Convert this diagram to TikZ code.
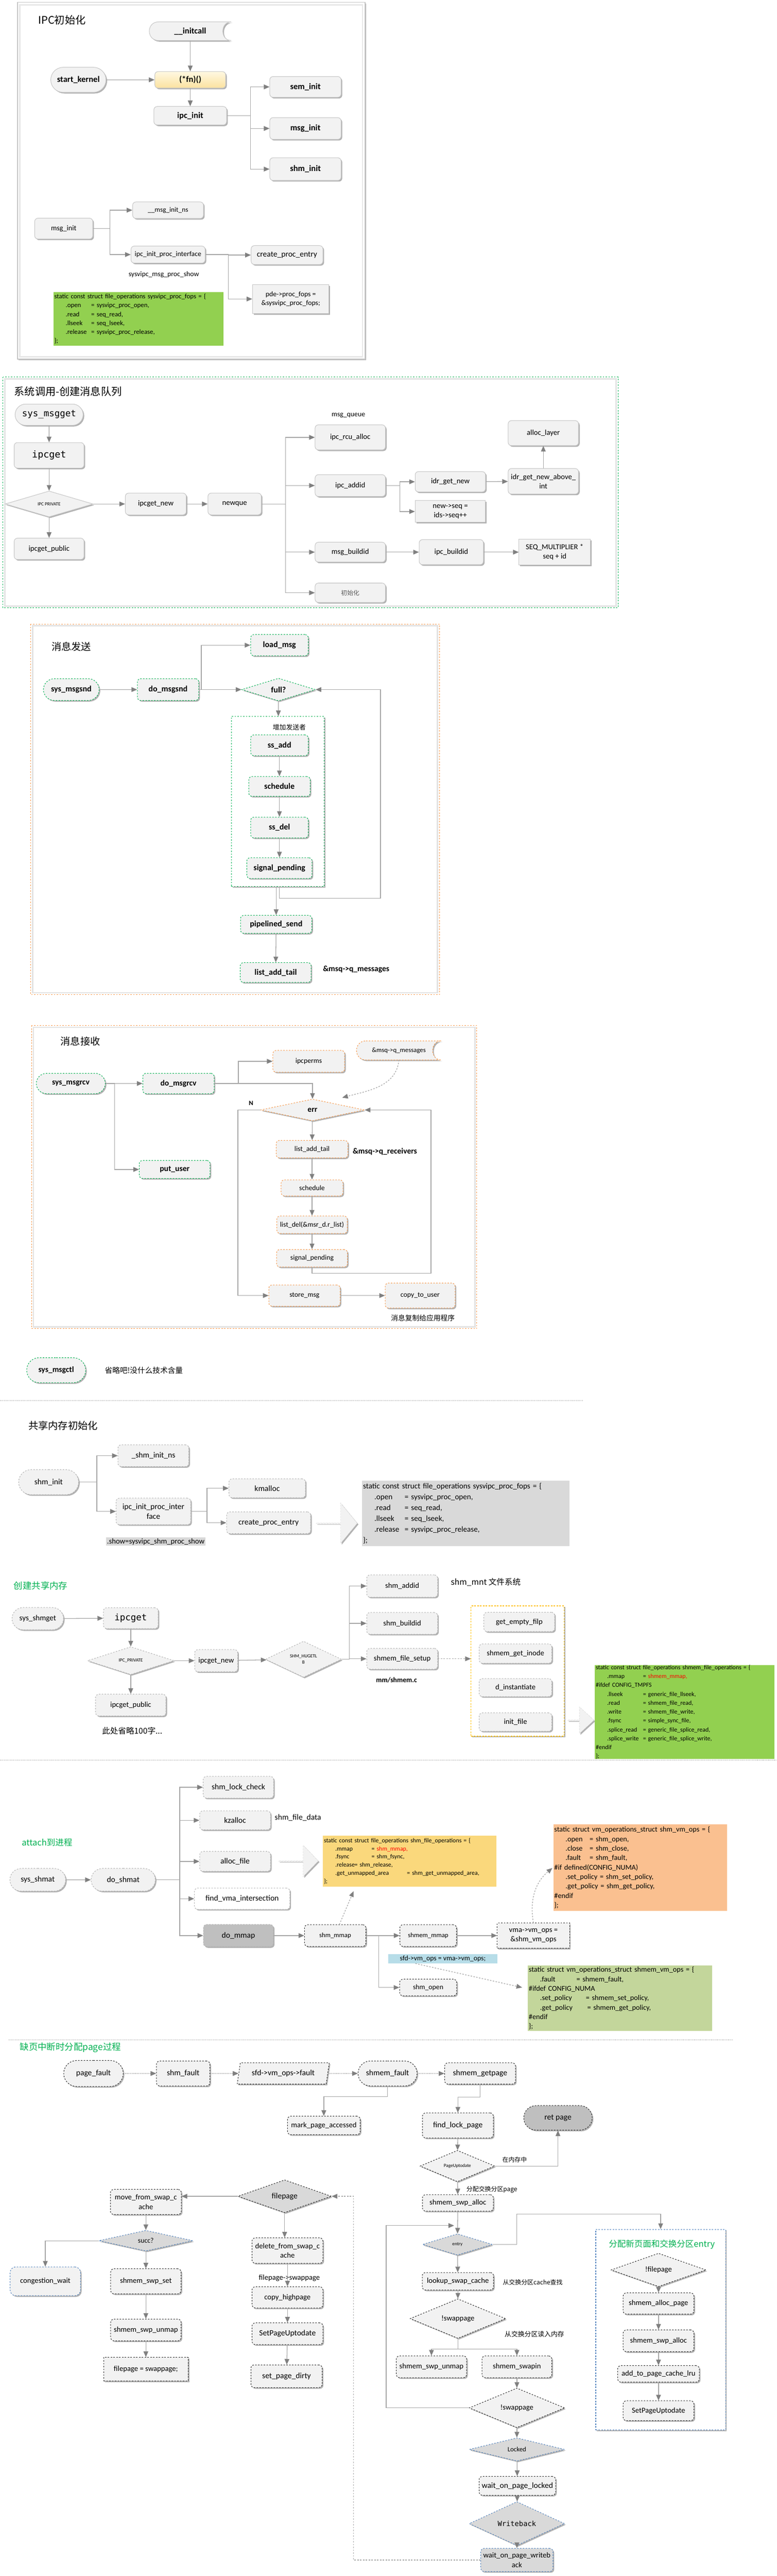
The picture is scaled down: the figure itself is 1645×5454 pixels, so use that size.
\documentclass[tikz,border=0pt]{standalone}
\usepackage{fontspec}
\setmainfont{Carlito}
\setmonofont{DejaVu Sans Mono}
\newfontfamily\cjk{Noto Sans CJK SC}
\usetikzlibrary{positioning,shapes.geometric,shapes.misc,shapes.arrows,shadows,arrows.meta,calc,backgrounds}

\definecolor{nodefill}{HTML}{F2F2F2}
\definecolor{darkfill}{HTML}{BFBFBF}
\definecolor{linegray}{HTML}{A6A6A6}
\definecolor{tipgray}{HTML}{808080}
\definecolor{mgreen}{HTML}{00B050}
\definecolor{morange}{HTML}{F79646}
\definecolor{mblue}{HTML}{4F81BD}
\definecolor{mgold}{HTML}{FFC000}
\definecolor{codegreen}{HTML}{92D050}
\definecolor{codegray}{HTML}{D9D9D9}
\definecolor{codeyellow}{HTML}{FAD87C}
\definecolor{codeorange}{HTML}{FAC090}
\definecolor{codeolive}{HTML}{C3D69B}
\definecolor{codeblue}{HTML}{B7DDE8}
\definecolor{fnlight}{HTML}{FFF8E1}
\definecolor{fndark}{HTML}{FBE2A0}

\newcommand{\linesp}{\baselineskip=1.25\baselineskip}
\newcommand{\fld}[3]{\hspace*{24pt}\makebox[#1][l]{#2}#3}
\newcommand{\storeshape}[2]{%
  \path[#1] let \p1=(#2.north west), \p2=(#2.south west), \n1={abs(\y1-\y2)} in
    ($(#2.north west)+(0.5*\n1,0pt)$) -- (#2.north east)
    .. controls +(-0.6*\n1,0pt) and +(-0.6*\n1,0pt) .. (#2.south east)
    -- ($(#2.south west)+(0.5*\n1,0pt)$)
    .. controls +(-0.667*\n1,0pt) and +(-0.667*\n1,0pt) .. ($(#2.north west)+(0.5*\n1,0pt)$) -- cycle;}

\tikzset{%
  fs/.style={font=\fontsize{#1}{#1}\selectfont\linesp},
  fb/.style={font=\fontsize{#1}{#1}\selectfont\linesp\bfseries},
  fm/.style={font=\fontsize{#1}{#1}\selectfont\ttfamily},
  fc/.style={font=\fontsize{#1}{#1}\selectfont\linesp\cjk},
  ombre/.style={drop shadow={shadow xshift=2.5pt, shadow yshift=-2.5pt, opacity=.3, fill=black}},
  bloc/.style={draw=gray!45, fill=nodefill, rounded corners=7pt, line width=1.1pt, align=center, inner sep=2pt, ombre, fs=16},
  term/.style={bloc, rounded rectangle, sharp corners},
  sqbox/.style={bloc, sharp corners},
  decision/.style={diamond, draw=gray!45, fill=nodefill, line width=1.1pt, inner sep=0pt, align=center, ombre, fs=16},
  gbord/.style={draw=mgreen, dashed},
  obord/.style={draw=morange, dashed},
  bbord/.style={draw=mblue, dashed},
  kbord/.style={draw=gray!60, dashed},
  nbord/.style={draw=black!85, dashed},
  dark/.style={fill=darkfill},
  line/.style={draw, color=linegray, line width=1.4pt, -{Triangle[length=12pt,width=10pt,color=tipgray]}},
  linepart/.style={line, dashed},
  linedot/.style={line, dash pattern=on 2pt off 1.5pt},
  note/.style={inner sep=0pt, fs=15},
  titre/.style={anchor=west, inner sep=0pt, fc=21},
  codebox/.style={anchor=north west, inner xsep=2pt, inner ysep=0pt, align=left},
  bigarrow/.style={single arrow, draw=gray!40, dashed, fill=nodefill, inner sep=0pt, ombre},
  back group/.style={fill=white, line width=1.2pt, dashed, ombre},
  sepline/.style={draw=gray!60, line width=1.2pt, dash pattern=on 2pt off 1pt},
}

\begin{document}
\begin{tikzpicture}[x=1pt, y=-1pt]
  \useasboundingbox (0,0) rectangle (1645,5454);

  \begin{scope}[on background layer]
    \fill[white] (0,0) rectangle (1645,5454);
    \draw[gray!45, line width=2pt, fill=white, ombre] (37,5) rectangle (773,760);
    \draw[gray!18, line width=3pt] (42,10) rectangle (768,755);
    \draw[mgreen, dashed, line width=1.2pt, fill=white] (6,798) rectangle (1309,1287);
    \draw[gray!22, line width=3pt] (10,802) rectangle (1305,1283);
    \draw[morange, dashed, line width=1.2pt, fill=white] (65,1321) rectangle (931,2106);
    \draw[gray!22, line width=3pt] (69,1325) rectangle (927,2102);
    \draw[morange, dashed, line width=1.2pt, fill=white] (67,2171) rectangle (1010,2813);
    \draw[gray!22, line width=3pt] (71,2175) rectangle (1006,2809);
    \draw[sepline] (0,2965) -- (1235,2965);
    \draw[sepline] (0,3727) -- (1645,3727);
    \draw[sepline] (17,4319) -- (1553,4319);
  \end{scope}

  % IPC init
  \node (t1) [titre, fc=22] at (81,42) {IPC初始化};
  \node (ic) [fb=18, inner sep=0pt, minimum width=173, minimum height=39] at (403,66) {\_\_initcall};
  \node (sk) [term, fb=18, minimum width=121, minimum height=53] at (166,169) {start\_kernel};
  \node (fn) [bloc, fb=18, top color=fnlight, bottom color=fndark, minimum width=150, minimum height=35] at (403,169) {(*fn)()};
  \node (ipcinit) [bloc, fb=18, minimum width=154, minimum height=39] at (403,245) {ipc\_init};
  \node (seminit) [bloc, fb=18, minimum width=151, minimum height=44] at (647,184) {sem\_init};
  \node (msginit) [bloc, fb=18, minimum width=151, minimum height=46] at (647,272) {msg\_init};
  \node (shminit) [bloc, fb=18, minimum width=151, minimum height=48] at (647,358) {shm\_init};
  \node (mi) [bloc, fs=15.5, minimum width=123, minimum height=44] at (135,484) {msg\_init};
  \node (mins) [bloc, fs=14.5, minimum width=150, minimum height=35] at (356,445) {\_\_msg\_init\_ns};
  \node (ipip) [bloc, fs=15, minimum width=157, minimum height=36] at (356,539) {ipc\_init\_proc\_interface};
  \node (lshow) [note] at (347,581) {sysvipc\_msg\_proc\_show};
  \node (cpe) [bloc, fs=17, minimum width=152, minimum height=40] at (608,540) {create\_proc\_entry};
  \node (pde) [sqbox, fs=15, minimum width=162, minimum height=61] at (616,633) {pde->proc\_fops =\\\&sysvipc\_proc\_fops;};
  \node (code1) [codebox, fill=codegreen, text width=356, minimum width=360, minimum height=114, font=\fontsize{14}{18.8}\selectfont] at (113,618)
    {static const struct file\_operations sysvipc\_proc\_fops = \{\\
     \fld{54pt}{.open}{= sysvipc\_proc\_open,}\\
     \fld{54pt}{.read}{= seq\_read,}\\
     \fld{54pt}{.llseek}{= seq\_lseek,}\\
     \fld{54pt}{.release}{= sysvipc\_proc\_release,}\\
     \};};

  \path [line] (ic) -- (fn);
  \path [line] (sk) -- (fn);
  \path [line] (fn) -- (ipcinit);
  \path [line] (ipcinit.east) -- ++(50,0) |- (seminit);
  \path [line] (ipcinit.east) -- ++(50,0) |- (msginit);
  \path [line] (ipcinit.east) -- ++(50,0) |- (shminit);
  \path [line] (mi.east) -- ++(36,0) |- (mins);
  \path [line] (mi.east) -- ++(36,0) |- (ipip);
  \path [line] (ipip.east) -- ++(49,0) |- (cpe);
  \path [line] (ipip.east) -- ++(49,0) |- (pde);

  % msgget
  \node (t2) [titre, fc=22] at (30,829) {系统调用-创建消息队列};
  \node (smg) [term, fm=19, minimum width=148, minimum height=45] at (104,878) {sys\_msgget};
  \node (ipg) [bloc, fm=20, minimum width=148, minimum height=54] at (104,964) {ipcget};
  \node (ipcpriv) [decision, fs=10, minimum width=186, minimum height=48] at (104,1067) {IPC PRIVATE};
  \node (ipgp) [bloc, minimum width=148, minimum height=45] at (104,1162) {ipcget\_public};
  \node (ipgn) [bloc, minimum width=129, minimum height=46] at (330,1067) {ipcget\_new};
  \node (nq) [bloc, minimum width=113, minimum height=46] at (497,1067) {newque};
  \node (lmq) [note] at (738,880) {msg\_queue};
  \node (rcu) [bloc, minimum width=149, minimum height=53] at (742,926) {ipc\_rcu\_alloc};
  \node (addid) [bloc, minimum width=149, minimum height=46] at (742,1028) {ipc\_addid};
  \node (idrg) [bloc, minimum width=149, minimum height=43] at (954,1020) {idr\_get\_new};
  \node (nseq) [sqbox, minimum width=149, minimum height=46] at (954,1083) {new->seq =\\ids->seq++};
  \node (idra) [bloc, minimum width=149, minimum height=54] at (1151,1019) {idr\_get\_new\_above\_\\int};
  \node (allocl) [bloc, minimum width=149, minimum height=53] at (1151,917) {alloc\_layer};
  \node (mbid) [bloc, minimum width=149, minimum height=42] at (742,1169) {msg\_buildid};
  \node (ibid) [bloc, minimum width=136, minimum height=53] at (956,1169) {ipc\_buildid};
  \node (seqm) [sqbox, minimum width=151, minimum height=54] at (1175,1169) {SEQ\_MULTIPLIER *\\seq + id};
  \node (init) [bloc, fc=13, text=gray!70!black, minimum width=149, minimum height=41] at (742,1255) {初始化};

  \path [line] (smg) -- (ipg);
  \path [line] (ipg) -- (ipcpriv);
  \path [line] (ipcpriv) -- (ipgp);
  \path [line] (ipcpriv) -- (ipgn);
  \path [line] (ipgn) -- (nq);
  \path [line] (nq.east) -- ++(51,0) |- (rcu);
  \path [line] (nq.east) -- ++(51,0) |- (addid);
  \path [line] (nq.east) -- ++(51,0) |- (mbid);
  \path [line] (nq.east) -- ++(51,0) |- (init);
  \path [line] (addid.east) -- ++(30,0) |- (idrg);
  \path [line] (addid.east) -- ++(30,0) |- (nseq);
  \path [line] (idrg) -- (idra);
  \path [line] (idra) -- (allocl);
  \path [line] (mbid) -- (ibid);
  \path [line] (ibid) -- (seqm);

  % msgsnd
  \node (t3) [titre] at (109,1369) {消息发送};
  \node (sms) [term, gbord, fb=17.5, minimum width=122, minimum height=46] at (151,1460) {sys\_msgsnd};
  \node (dms) [bloc, gbord, fb=17.5, minimum width=130, minimum height=46] at (356,1460) {do\_msgsnd};
  \node (lm) [bloc, gbord, fb=17.5, minimum width=122, minimum height=45] at (592,1366) {load\_msg};
  \node (full) [decision, gbord, fb=17.5, minimum width=156, minimum height=48] at (590,1460) {full?};
  \node (grp) [back group, draw=mgreen, minimum width=197, minimum height=360] at (588.5,1697) {};
  \node (lsnd) [note, fc=14] at (613,1540) {增加发送者};
  \node (ssadd) [bloc, gbord, fb=17.5, minimum width=122, minimum height=44] at (592,1578) {ss\_add};
  \node (sched) [bloc, gbord, fb=17.5, minimum width=130, minimum height=42] at (592,1665) {schedule};
  \node (ssdel) [bloc, gbord, fb=17.5, minimum width=122, minimum height=44] at (592,1752) {ss\_del};
  \node (sigp) [bloc, gbord, fb=17.5, minimum width=138, minimum height=44] at (592,1838) {signal\_pending};
  \node (ps) [bloc, gbord, fb=17.5, minimum width=151, minimum height=38] at (585,1957) {pipelined\_send};
  \node (lat) [bloc, gbord, fb=17.5, minimum width=150, minimum height=42] at (584,2059) {list\_add\_tail};
  \node (lqm) [note, fb=17, anchor=west] at (684,2052) {\&msq->q\_messages};
  \coordinate (sndloop) at (806,1460);

  \path [line] (sms) -- (dms);
  \path [line] (dms.east) -- ++(5,0) |- (lm);
  \path [line] (dms) -- (full);
  \path [line] (full) -- (grp);
  \path [line] (ssadd) -- (sched);
  \path [line] (sched) -- (ssdel);
  \path [line] (ssdel) -- (sigp);
  \path [line] (grp.south -| ps) -- (ps);
  \path [line] ([xshift=3pt]grp.south) -- ++(0,24) -| (sndloop) -- (full.east);
  \path [line] (ps) -- (lat);

  % msgrcv
  \node (t4) [titre] at (128,2205) {消息接收};
  \node (smr) [term, gbord, fb=17, minimum width=150, minimum height=43] at (150,2294) {sys\_msgrcv};
  \node (dmr) [bloc, gbord, fb=17, minimum width=151, minimum height=43] at (378,2294) {do\_msgrcv};
  \node (pu) [bloc, gbord, fb=17, minimum width=150, minimum height=38] at (370,2476) {put\_user};
  \node (ipcp) [bloc, obord, fs=15, minimum width=152, minimum height=46] at (654,2247) {ipcperms};
  \node (qm) [fs=14, inner sep=0pt, minimum width=179, minimum height=40] at (845,2224) {\&msq->q\_messages};
  \node (err) [decision, obord, fb=17, minimum width=220, minimum height=46] at (662,2350) {err};
  \node (lN) [note, fb=14] at (532,2336) {N};
  \node (lat2) [bloc, obord, fs=15, minimum width=152, minimum height=37] at (661,2433) {list\_add\_tail};
  \node (lqr) [note, fb=17, anchor=west] at (747,2438) {\&msq->q\_receivers};
  \node (sch2) [bloc, obord, fs=15, minimum width=131, minimum height=34] at (661,2515) {schedule};
  \node (ldel) [bloc, obord, fs=15, minimum width=149, minimum height=37] at (661,2593) {list\_del(\&msr\_d.r\_list)};
  \node (sig2) [bloc, obord, fs=15, minimum width=150, minimum height=37] at (661,2664) {signal\_pending};
  \node (stm) [bloc, obord, fs=15, minimum width=151, minimum height=45] at (645,2743) {store\_msg};
  \node (ctu) [bloc, obord, fs=15, minimum width=148, minimum height=53] at (890,2743) {copy\_to\_user};
  \node (lcopy) [note, fc=15, anchor=west] at (828,2790) {消息复制给应用程序};
  \coordinate (rcvloop) at (913,2350);
  \coordinate (nloop) at (504,2743);
  \coordinate (qtip) at (725,2324);

  \path [line] (smr) -- (dmr);
  \path [line] (smr.east) -- ++(19,0) |- (pu);
  \path [line] (dmr.east) -- ++(51,0) |- (ipcp);
  \path [line] (dmr.east) -| (err.north);
  \path [linepart] (qm.south) to[out=-95, in=15] (qtip);
  \path [line] (err) -- (lat2);
  \path [line] (lat2) -- (sch2);
  \path [line] (sch2) -- (ldel);
  \path [line] (ldel) -- (sig2);
  \path [line] (sig2.south) -- ++(0,13) -| (rcvloop) -- (err.east);
  \path [line] (err.west) -| (nloop) -- (stm);
  \path [line] (stm) -- (ctu);

  \node (smc) [term, gbord, fb=17, minimum width=129, minimum height=53] at (119,2901) {sys\_msgctl};
  \node (lmc) [note, fc=16, anchor=west] at (222,2901) {省略吧!没什么技术含量};

  % shm init
  \node (t6) [titre] at (60,3018) {共享内存初始化};
  \node (si) [term, kbord, fs=17, minimum width=131, minimum height=53] at (103,3138) {shm\_init};
  \node (sin) [bloc, kbord, fs=17, minimum width=150, minimum height=46] at (325,3082) {\_shm\_init\_ns};
  \node (iip) [bloc, kbord, fs=17, minimum width=158, minimum height=56] at (325,3200) {ipc\_init\_proc\_inter\\face};
  \node (km) [bloc, kbord, fs=17, minimum width=162, minimum height=40] at (566,3151) {kmalloc};
  \node (cpe2) [bloc, kbord, fs=17, minimum width=178, minimum height=46] at (569,3224) {create\_proc\_entry};
  \node (lsh) [note, fs=16, fill=codegray, inner sep=2pt] at (330,3264) {.show=sysvipc\_shm\_proc\_show};
  \node (blk1) [bigarrow, minimum width=86, minimum height=87, single arrow head extend=13, single arrow tip angle=101] at (713,3225) {};
  \node (code2) [codebox, fill=codegray, text width=435, minimum width=439, minimum height=138, font=\fontsize{16.5}{23}\selectfont] at (767,3135)
    {static const struct file\_operations sysvipc\_proc\_fops = \{\\
     \fld{64pt}{.open}{= sysvipc\_proc\_open,}\\
     \fld{64pt}{.read}{= seq\_read,}\\
     \fld{64pt}{.llseek}{= seq\_lseek,}\\
     \fld{64pt}{.release}{= sysvipc\_proc\_release,}\\
     \};};

  \path [line] (si.east) -- ++(38,0) |- (sin);
  \path [line] (si.east) -- ++(38,0) |- (iip);
  \path [line] (iip.east) -- ++(34,0) |- (km);
  \path [line] (iip.east) -- ++(34,0) |- (cpe2);

  % shmget
  \node (t7) [titre, fc=19, text=mgreen] at (29,3357) {创建共享内存};
  \node (sg) [term, kbord, fs=16.5, minimum width=113, minimum height=47] at (80,3427) {sys\_shmget};
  \node (ipg2) [bloc, kbord, fm=19, minimum width=116, minimum height=44] at (277,3426) {ipcget};
  \node (pr2) [decision, kbord, fs=10, minimum width=183, minimum height=49] at (277,3516) {IPC\_PRIVATE};
  \node (ipgn2) [bloc, kbord, fs=16, minimum width=91, minimum height=47] at (458,3516) {ipcget\_new};
  \node (hug) [decision, kbord, fs=10, minimum width=161, minimum height=55] at (643,3513) {SHM\_HUGETL\\B};
  \node (ipgp2) [bloc, kbord, fs=16, minimum width=149, minimum height=46] at (277,3610) {ipcget\_public};
  \node (l100) [note, fc=17] at (280,3665) {此处省略100字...};
  \node (sadd) [bloc, kbord, fs=16, minimum width=150, minimum height=47] at (852,3358) {shm\_addid};
  \node (lmnt) [note, fc=17, anchor=west] at (955,3350) {shm\_mnt 文件系统};
  \node (sbid) [bloc, kbord, fs=16, minimum width=150, minimum height=46] at (852,3437) {shm\_buildid};
  \node (sfs) [bloc, kbord, fs=16, minimum width=150, minimum height=44] at (852,3512) {shmem\_file\_setup};
  \node (lmm) [note, fb=15] at (840,3557) {mm/shmem.c};
  \node (grp2) [back group, draw=mgold, minimum width=197, minimum height=276] at (1096.5,3538) {};
  \node (gef) [bloc, kbord, fs=16, minimum width=150, minimum height=41] at (1100,3434) {get\_empty\_filp};
  \node (sgi) [bloc, kbord, fs=16, minimum width=154, minimum height=41] at (1092,3501) {shmem\_get\_inode};
  \node (dinst) [bloc, kbord, fs=16, minimum width=154, minimum height=38] at (1092,3573) {d\_instantiate};
  \node (inf) [bloc, kbord, fs=16, minimum width=154, minimum height=39] at (1092,3646) {init\_file};
  \node (blk2) [bigarrow, minimum width=57, minimum height=56, single arrow head extend=8, single arrow tip angle=85] at (1230,3642) {};
  \node (code3) [codebox, fill=codegreen, text width=376, minimum width=380, minimum height=187, font=\fontsize{13}{18.8}\selectfont] at (1260,3525)
    {static const struct file\_operations shmem\_file\_operations = \{\\
     \fld{76pt}{.mmap}{= \textcolor{red}{shmem\_mmap,}}\\
     \#ifdef CONFIG\_TMPFS\\
     \fld{76pt}{.llseek}{= generic\_file\_llseek,}\\
     \fld{76pt}{.read}{= shmem\_file\_read,}\\
     \fld{76pt}{.write}{= shmem\_file\_write,}\\
     \fld{76pt}{.fsync}{= simple\_sync\_file,}\\
     \fld{76pt}{.splice\_read}{= generic\_file\_splice\_read,}\\
     \fld{76pt}{.splice\_write}{= generic\_file\_splice\_write,}\\
     \#endif\\
     \};};

  \path [line] (sg) -- (ipg2);
  \path [line] (ipg2) -- (pr2);
  \path [line] (pr2) -- (ipgp2);
  \path [line] (pr2) -- (ipgn2);
  \path [line] (ipgn2) -- (hug);
  \path [line] (hug.east) -- ++(16,0) |- (sadd);
  \path [line] (hug.east) -- ++(16,0) |- (sbid);
  \path [line] (hug.east) -- ++(16,0) |- (sfs);
  \path [linepart] (sfs.east) -- (sfs.east -| grp2.west);

  % shmat
  \node (t8) [titre, fc=18, text=mgreen] at (46,3901) {attach到进程};
  \node (ssh) [term, kbord, fs=17, minimum width=122, minimum height=48] at (80,3980) {sys\_shmat};
  \node (dsh) [term, kbord, fs=17, minimum width=140, minimum height=48] at (261,3980) {do\_shmat};
  \node (slc) [bloc, kbord, fs=17, minimum width=149, minimum height=46] at (505,3784) {shm\_lock\_check};
  \node (kz) [bloc, kbord, fs=17, minimum width=150, minimum height=40] at (498,3854) {kzalloc};
  \node (lsfd) [note, fs=17, anchor=west] at (582,3848) {shm\_file\_data};
  \node (af) [bloc, kbord, fs=17, minimum width=150, minimum height=42] at (498,3941) {alloc\_file};
  \node (blk3) [bigarrow, minimum width=67, minimum height=84, single arrow head extend=11, single arrow tip angle=92] at (632,3940) {};
  \node (code4) [codebox, fill=codeyellow, text width=363, minimum width=367, minimum height=108, font=\fontsize{13}{17.2}\selectfont] at (684,3886)
    {static const struct file\_operations shm\_file\_operations = \{\\
     \fld{77pt}{.mmap}{= \textcolor{red}{shm\_mmap,}}\\
     \fld{77pt}{.fsync}{= shm\_fsync,}\\
     \fld{0pt}{.release}{\hspace{41pt}= shm\_release,}\\
     \fld{152pt}{.get\_unmapped\_area}{= shm\_get\_unmapped\_area,}\\
     \};};
  \node (fvi) [bloc, kbord, fs=17, fill=white, minimum width=202, minimum height=45] at (513,4020) {find\_vma\_intersection};
  \node (dmm) [bloc, kbord, dark, fs=17, minimum width=148, minimum height=47] at (505,4098) {do\_mmap};
  \node (smm) [bloc, nbord, fs=14, minimum width=130, minimum height=46] at (710,4098) {shm\_mmap};
  \node (shmm) [bloc, nbord, fs=14, minimum width=120, minimum height=46] at (907,4098) {shmem\_mmap};
  \node (vmo) [sqbox, nbord, fs=16, minimum width=153, minimum height=53] at (1130,4098) {vma->vm\_ops =\\\&shm\_vm\_ops};
  \node (sop) [bloc, nbord, fs=15, minimum width=121, minimum height=35] at (907,4208) {shm\_open};
  \node (lsv) [note, fs=15, fill=codeblue, minimum width=232, minimum height=20] at (938,4147) {sfd->vm\_ops = vma->vm\_ops;};
  \node (code5) [codebox, fill=codeorange, text width=364, minimum width=368, minimum height=184, font=\fontsize{15.5}{20}\selectfont] at (1172,3862)
    {static struct vm\_operations\_struct shm\_vm\_ops = \{\\
     \fld{51pt}{.open}{= shm\_open,}\\
     \fld{51pt}{.close}{= shm\_close,}\\
     \fld{51pt}{.fault}{= shm\_fault,}\\
     \#if defined(CONFIG\_NUMA)\\
     \fld{0pt}{}{.set\_policy = shm\_set\_policy,}\\
     \fld{0pt}{}{.get\_policy = shm\_get\_policy,}\\
     \#endif\\
     \};};
  \node (code6) [codebox, fill=codeolive, text width=386, minimum width=390, minimum height=139, font=\fontsize{15.5}{20}\selectfont] at (1118,4161)
    {static struct vm\_operations\_struct shmem\_vm\_ops = \{\\
     \fld{77pt}{.fault}{= shmem\_fault,}\\
     \#ifdef CONFIG\_NUMA\\
     \fld{97pt}{.set\_policy}{= shmem\_set\_policy,}\\
     \fld{100pt}{.get\_policy}{= shmem\_get\_policy,}\\
     \#endif\\
     \};};
  \coordinate (yel) at (749,4004);
  \coordinate (oend) at (1170,3955);
  \coordinate (vend) at (1106,4208);

  \path [line] (ssh) -- (dsh);
  \path [line] (dsh.east) -- ++(51,0) |- (slc);
  \path [line] (dsh.east) -- ++(51,0) |- (kz);
  \path [line] (dsh.east) -- ++(51,0) |- (af);
  \path [line] (dsh.east) -- ++(51,0) |- (fvi);
  \path [line] (dsh.east) -- ++(51,0) |- (dmm);
  \path [line] (dmm) -- (smm);
  \path [line] (smm) -- (shmm);
  \path [line] (smm.east) -- ++(27,0) |- (sop);
  \path [line] (shmm) -- (vmo);
  \path [linepart] ([xshift=9pt]smm.north) -- (yel);
  \path [linepart] (vmo.north) to[out=100, in=-140] (oend);
  \path [linepart] ([xshift=-58pt]lsv.south) -- (vend);

  % page fault
  \node (t9) [titre, fc=19, text=mgreen] at (42,4335) {缺页中断时分配page过程};
  \node (pf) [term, nbord, fs=17, minimum width=130, minimum height=55] at (198,4390) {page\_fault};
  \node (sf) [bloc, nbord, fs=17, minimum width=113, minimum height=53] at (388,4390) {shm\_fault};
  \node (vf) [bloc, nbord, sharp corners, trapezium, trapezium left angle=75, trapezium right angle=105, trapezium stretches=true, fs=17, minimum width=195, minimum height=45] at (600,4390) {sfd->vm\_ops->fault};
  \node (shf) [term, nbord, fs=17, minimum width=129, minimum height=53] at (821,4390) {shmem\_fault};
  \node (sgp) [bloc, nbord, fs=17, minimum width=150, minimum height=45] at (1017,4390) {shmem\_getpage};
  \node (mpa) [bloc, nbord, fs=16, minimum width=154, minimum height=39] at (686,4500) {mark\_page\_accessed};
  \node (flp) [bloc, nbord, fs=17, minimum width=150, minimum height=53] at (970,4500) {find\_lock\_page};
  \node (ret) [term, nbord, dark, fs=17, minimum width=149, minimum height=52] at (1182,4484) {ret page};
  \node (pud) [decision, nbord, fs=10, minimum width=158, minimum height=59] at (969,4586) {PageUptodate};
  \node (lmem) [note, fc=13, anchor=west] at (1064,4573) {在内存中};
  \node (ssa) [bloc, nbord, fs=16, minimum width=150, minimum height=35] at (970,4664) {shmem\_swp\_alloc};
  \node (lswp) [note, fc=13, anchor=west] at (988,4636) {分配交换分区page};
  \node (ent) [decision, bbord, fill=codegray, fs=10, minimum width=148, minimum height=45] at (969,4752) {entry};
  \node (lsc) [bloc, nbord, fs=16, minimum width=151, minimum height=37] at (970,4830) {lookup\_swap\_cache};
  \node (lcache) [note, fc=13, anchor=west] at (1065,4832) {从交换分区cache查找};
  \node (sw1) [decision, nbord, fs=16, minimum width=202, minimum height=51] at (970,4909) {!swappage};
  \node (lread) [note, fc=14, anchor=west] at (1069,4942) {从交换分区读入内存};
  \node (ssu2) [bloc, nbord, fs=16, minimum width=149, minimum height=46] at (914,5011) {shmem\_swp\_unmap};
  \node (ssi) [bloc, nbord, fs=16, minimum width=148, minimum height=46] at (1095,5011) {shmem\_swapin};
  \node (sw2) [decision, nbord, fs=16, minimum width=202, minimum height=50] at (1095,5098) {!swappage};
  \node (lk) [decision, bbord, fill=codegray, fs=14, minimum width=202, minimum height=49] at (1095,5186) {Locked};
  \node (wpl) [bloc, nbord, fs=17, minimum width=162, minimum height=40] at (1096,5263) {wait\_on\_page\_locked};
  \node (wb) [decision, bbord, fill=codegray, fm=15, minimum width=202, minimum height=39] at (1095,5343) {Writeback};
  \node (wpw) [bloc, bbord, fill=codegray, fs=16, minimum width=153, minimum height=49] at (1095,5420) {wait\_on\_page\_writeb\\ack};
  \node (fp) [decision, nbord, fill=codegray, fs=17, minimum width=198, minimum height=58] at (603,4650) {filepage};
  \node (mfs) [bloc, nbord, fs=16, minimum width=150, minimum height=53] at (309,4662) {move\_from\_swap\_c\\ache};
  \node (succ) [decision, bbord, fill=codegray, fs=15, minimum width=199, minimum height=41] at (309,4744) {succ?};
  \node (cw) [bloc, bbord, rounded corners=12pt, fs=16, minimum width=149, minimum height=61] at (96,4830) {congestion\_wait};
  \node (sss) [bloc, nbord, fs=16, minimum width=149, minimum height=53] at (309,4830) {shmem\_swp\_set};
  \node (ssu) [bloc, nbord, fs=16, minimum width=149, minimum height=46] at (309,4933) {shmem\_swp\_unmap};
  \node (fsw) [sqbox, nbord, fs=16, minimum width=179, minimum height=50] at (309,5016) {filepage = swappage;};
  \node (dfs) [bloc, nbord, fs=16, minimum width=150, minimum height=54] at (609,4765) {delete\_from\_swap\_c\\ache};
  \node (lfs) [note, fs=16] at (613,4823) {filepage->swappage};
  \node (chp) [bloc, nbord, fs=16, minimum width=150, minimum height=45] at (609,4864) {copy\_highpage};
  \node (spu) [bloc, nbord, fs=17, minimum width=150, minimum height=46] at (609,4941) {SetPageUptodate};
  \node (spd) [bloc, nbord, fs=17, minimum width=151, minimum height=48] at (607,5031) {set\_page\_dirty};
  \node (bbox) [back group, draw=mblue, minimum width=275, minimum height=425] at (1399.5,4932.5) {};
  \node (t10) [note, fc=18, text=mgreen] at (1402,4752) {分配新页面和交换分区entry};
  \node (nfp) [decision, nbord, fs=16, minimum width=201, minimum height=44] at (1395,4806) {!filepage};
  \node (sap) [bloc, nbord, fs=16, minimum width=150, minimum height=45] at (1395,4877) {shmem\_alloc\_page};
  \node (ssa2) [bloc, nbord, fs=16, minimum width=150, minimum height=46] at (1395,4956) {shmem\_swp\_alloc};
  \node (atp) [bloc, nbord, fs=16, minimum width=173, minimum height=35] at (1395,5026) {add\_to\_page\_cache\_lru};
  \node (spu2) [bloc, nbord, fs=16, minimum width=150, minimum height=42] at (1395,5104) {SetPageUptodate};
  \coordinate (newent) at (1399.5,4688);
  \coordinate (swloop) at (818,4712);
  \coordinate (swtip) at (962,4712);
  \coordinate (fploop) at (749,4650);

  \path [linedot] (pf) -- (sf);
  \path [linedot] (sf) -- (vf);
  \path [linedot] (vf) -- (shf);
  \path [linedot] (shf) -- (sgp);
  \path [line] (shf.south) -- ++(0,22) -| (mpa);
  \path [line] (sgp.south) -- ++(0,27) -| (flp);
  \path [line] (flp) -- (pud);
  \path [line] (pud.east) -| (ret);
  \path [line] (pud) -- (ssa);
  \path [line] (ssa) -- (ent);
  \path [line] (ent.east) -- ++(51,0) |- (newent) -- (bbox.north);
  \path [line] (ent) -- (lsc);
  \path [line] (lsc) -- (sw1);
  \path [line] (sw1.south) -- ++(0,22) -| (ssu2);
  \path [line] (sw1.south) -- ++(0,22) -| (ssi);
  \path [line] (ssi) -- (sw2);
  \path [line] (sw2.west) -| (swloop) -- (swtip);
  \path [line] (sw2) -- (lk);
  \path [line] (lk) -- (wpl);
  \path [line] (wpl) -- (wb);
  \path [line] (wb) -- (wpw);
  \path [linepart] (wpw.west) -| (fploop) -- (fp.east);
  \path [line] (fp.west) -- (fp.west -| mfs.east);
  \path [line] (mfs) -- (succ);
  \path [line] (succ.west) -| (cw);
  \path [line] (succ) -- (sss);
  \path [line] (sss) -- (ssu);
  \path [line] (ssu) -- (fsw);
  \path [line] (fp.south) -- (fp.south |- dfs.north);
  \path [line] (dfs) -- (chp);
  \path [line] (chp) -- (spu);
  \path [line] (spu) -- (spd);
  \path [line] (nfp) -- (sap);
  \path [line] (sap) -- (ssa2);
  \path [line] (ssa2) -- (atp);
  \path [line] (atp) -- (spu2);

  \begin{scope}[on background layer]
    \storeshape{draw=gray!45, fill=nodefill, line width=1.1pt, ombre}{ic}
    \storeshape{draw=morange, dashed, fill=nodefill, line width=1.1pt, ombre}{qm}
  \end{scope}
\end{tikzpicture}
\end{document}
